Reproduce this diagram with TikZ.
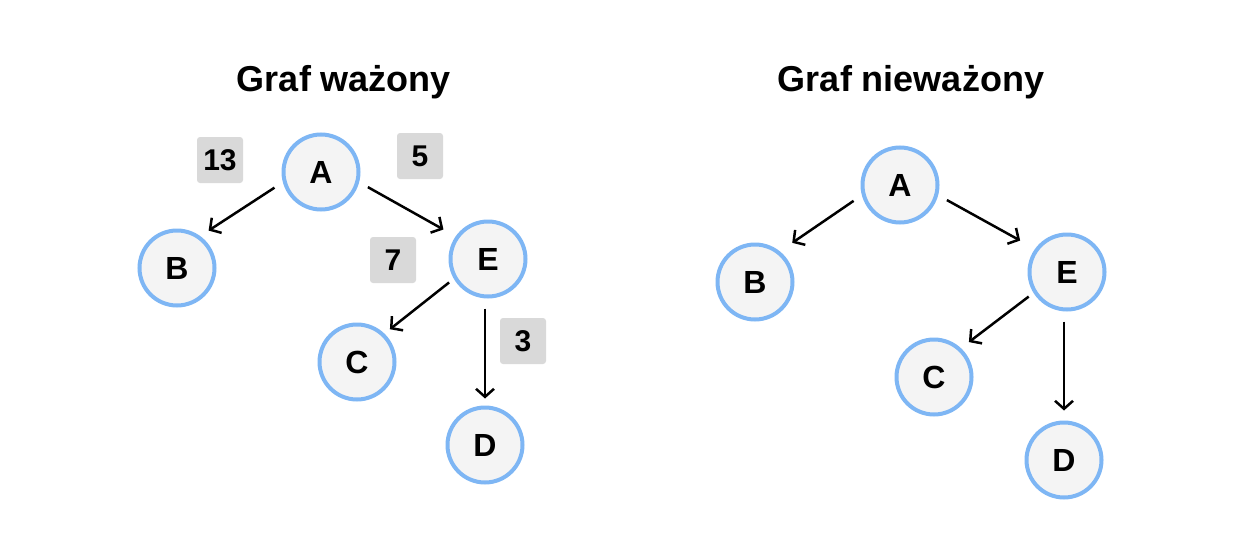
\documentclass[tikz,border=0pt]{standalone}
\usepackage{fontspec}
\setmainfont{Liberation Sans}
\usetikzlibrary{arrows.meta}
\definecolor{ringblue}{HTML}{7EB6F4}
\definecolor{nodefill}{HTML}{F4F4F4}
\definecolor{wgray}{HTML}{D9D9D9}
\begin{document}
\begin{tikzpicture}[x=1pt,y=-1pt,
  vertex/.style={circle,draw=ringblue,line width=4pt,fill=nodefill,minimum size=75pt,inner sep=0pt,font=\fontsize{32}{34}\selectfont\bfseries},
  weight/.style={fill=wgray,rounded corners=3pt,minimum size=46pt,inner sep=0pt,font=\fontsize{30}{32}\selectfont\bfseries},
  title/.style={font=\fontsize{36}{40}\selectfont\bfseries},
  edge/.style={line width=2.5pt,-{Straight Barb[length=8pt,width=18pt,line width=2.5pt]},shorten <=10pt,shorten >=10pt}]
\useasboundingbox (0,0) rectangle (1245,554);
% left graph
\node[title] (t1) at (344,82) {Graf ważony};
\node[vertex] (A1) at (321,172) {A};
\node[vertex] (B1) at (177,268) {B};
\node[vertex] (E1) at (488,259) {E};
\node[vertex] (C1) at (357,362) {C};
\node[vertex] (D1) at (485,445) {D};
\node[weight] (w13) at (220,160) {13};
\node[weight] (w5) at (420,156) {5};
\node[weight] (w7) at (393,260) {7};
\node[weight] (w3) at (523,341) {3};
\draw[edge] (A1.195) -- (B1.54);
\draw[edge,shorten >=14pt] (A1.345) -- (E1.145);
\draw[edge,shorten <=6pt,shorten >=7pt] (E1.210) -- (C1.46);
\draw[edge,shorten >=7pt] (E1.south -| D1) -- (D1.north);
% right graph
\node[title] (t2) at (911,82) {Graf nieważony};
\node[vertex] (A2) at (900,185) {A};
\node[vertex] (B2) at (755,282) {B};
\node[vertex] (E2) at (1067,272) {E};
\node[vertex] (C2) at (934,377) {C};
\node[vertex] (D2) at (1064,460) {D};
\draw[edge,shorten >=15pt] (A2.195) -- (B2.51);
\draw[edge,shorten >=17pt] (A2.345) -- (E2.144);
\draw[edge,shorten <=6pt] (E2.212) -- (C2.47);
\draw[edge] (E2.south -| D2) -- (D2.north);
\end{tikzpicture}
\end{document}
